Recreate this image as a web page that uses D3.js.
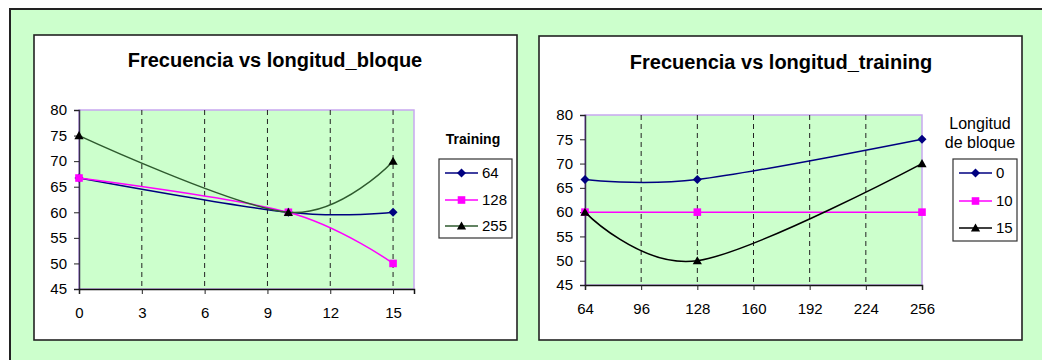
<!DOCTYPE html>
<html>
<head>
<meta charset="utf-8">
<script src="https://cdn.jsdelivr.net/npm/d3@7"></script>
<style>
  html, body { margin: 0; padding: 0; background: #fff; }
  svg { display: block; font-family: Arial, "Liberation Sans", sans-serif; }
</style>
</head>
<body>
<svg id="fig" width="1042" height="360"></svg>
<script>
// Frequency vs block length (one series per training length)
const blockLengths = [0, 10, 15];
const trainingNames = ["64", "128", "255"];
const freqTraining64 = [66.7, 60, 60];
const freqTraining128 = [66.7, 60, 50];
const freqTraining255 = [75, 60, 70];
const blockTicks = [0, 3, 6, 9, 12, 15];

// Frequency vs training length (one series per block length)
const trainingLengths = [64, 128, 256];
const blockNames = ["0", "10", "15"];
const freqBlock0 = [66.7, 66.7, 75];
const freqBlock10 = [60, 60, 60];
const freqBlock15 = [60, 50, 70];
const trainingTicks = [64, 96, 128, 160, 192, 224, 256];

const freqTicks = [45, 50, 55, 60, 65, 70, 75, 80];

const GREEN = "#CCFFCC";
const FONT = "Arial, 'Liberation Sans', sans-serif";
const svg = d3.select("#fig");

// page background and outer frame
svg.append("rect").attr("x", 10).attr("y", 9).attr("width", 1100).attr("height", 400)
  .attr("fill", GREEN).attr("stroke", "#222").attr("stroke-width", 2);

function markerPath(shape) {
  if (shape === "diamond") return "M0,-4.5L4.5,0L0,4.5L-4.5,0Z";
  if (shape === "square") return "M-3.8,-3.8H3.8V3.8H-3.8Z";
  return "M0,-4.5L4.6,3.6L-4.6,3.6Z";
}

function drawChart(cfg) {
  const g = svg.append("g");
  // chart frame
  g.append("rect").attr("x", cfg.box[0]).attr("y", cfg.box[1])
    .attr("width", cfg.box[2]).attr("height", cfg.box[3])
    .attr("fill", "#fff").attr("stroke", "#222").attr("stroke-width", 1.6);

  g.append("text").attr("x", cfg.titleX).attr("y", cfg.titleY)
    .attr("text-anchor", "middle").attr("font-weight", "bold").attr("font-size", 20)
    .attr("fill", "#000").text(cfg.title);

  const x = d3.scaleLinear().domain(cfg.xDomain).range([cfg.plot.left, cfg.plot.right]);
  const y = d3.scaleLinear().domain([45, 80]).range([cfg.plot.bottom, cfg.plot.top]);

  // plot area
  g.append("rect").attr("x", cfg.plot.left).attr("y", cfg.plot.top)
    .attr("width", cfg.plot.right - cfg.plot.left).attr("height", cfg.plot.bottom - cfg.plot.top)
    .attr("fill", GREEN).attr("stroke", "#C8A8F0").attr("stroke-width", 1.5);

  // dashed vertical gridlines
  g.selectAll(".grid").data(cfg.xTicks.filter(t => t !== cfg.xDomain[0] && t !== cfg.xDomain[1]))
    .join("line")
    .attr("x1", d => x(d)).attr("x2", d => x(d))
    .attr("y1", cfg.plot.top).attr("y2", cfg.plot.bottom)
    .attr("stroke", "#222").attr("stroke-width", 1).attr("stroke-dasharray", "5,4");

  // y axis
  const yAxis = g.append("g").attr("transform", `translate(${cfg.plot.left},0)`)
    .call(d3.axisLeft(y).tickValues(freqTicks).tickSize(5).tickPadding(7));
  yAxis.select(".domain").attr("stroke", "#3a3050").attr("stroke-width", 1.5);
  yAxis.selectAll(".tick line").attr("stroke", "#222");
  yAxis.selectAll("text").attr("font-size", 15).attr("fill", "#000").attr("font-family", FONT);

  // x axis
  const xAxis = g.append("g").attr("transform", `translate(0,${cfg.plot.bottom})`)
    .call(d3.axisBottom(x).tickValues(cfg.xTicks).tickSize(5).tickPadding(13));
  xAxis.select(".domain").attr("stroke", "#111").attr("stroke-width", 1.5);
  xAxis.selectAll(".tick line").attr("stroke", "#222");
  xAxis.selectAll("text").attr("font-size", 15).attr("fill", "#000").attr("font-family", FONT);

  const line = d3.line().x(d => x(d[0])).y(d => y(d[1])).curve(d3.curveCatmullRom.alpha(0));

  cfg.series.forEach(s => {
    const pts = cfg.xValues.map((xv, i) => [xv, s.values[i]]);
    g.append("path").attr("d", line(pts)).attr("fill", "none")
      .attr("stroke", s.color).attr("stroke-width", 1.5);
    g.selectAll(null).data(pts).join("path")
      .attr("transform", d => `translate(${x(d[0])},${y(d[1])})`)
      .attr("d", markerPath(s.shape)).attr("fill", s.markerColor);
  });

  // legend
  cfg.legendTitle.forEach((t, i) => {
    g.append("text").attr("x", cfg.legend.titleX).attr("y", cfg.legend.titleY + i * 19)
      .attr("text-anchor", "middle").attr("font-size", cfg.legend.titleSize)
      .attr("font-weight", cfg.legend.titleBold ? "bold" : "normal").attr("fill", "#000").text(t);
  });
  g.append("rect").attr("x", cfg.legend.box[0]).attr("y", cfg.legend.box[1])
    .attr("width", cfg.legend.box[2]).attr("height", cfg.legend.box[3])
    .attr("fill", "#fff").attr("stroke", "#333").attr("stroke-width", 1.2);
  cfg.series.forEach((s, i) => {
    const ly = cfg.legend.rowY[i];
    g.append("line").attr("x1", cfg.legend.lineX[0]).attr("x2", cfg.legend.lineX[1])
      .attr("y1", ly).attr("y2", ly).attr("stroke", s.color).attr("stroke-width", 1.5);
    g.append("path").attr("transform", `translate(${(cfg.legend.lineX[0] + cfg.legend.lineX[1]) / 2},${ly})`)
      .attr("d", markerPath(s.shape)).attr("fill", s.markerColor);
    g.append("text").attr("x", cfg.legend.textX).attr("y", ly).attr("dy", "0.36em")
      .attr("font-size", 15).attr("fill", "#000").text(s.name);
  });
}

drawChart({
  box: [34, 35, 483, 305],
  title: "Frecuencia vs longitud_bloque",
  titleX: 275, titleY: 67,
  plot: { left: 79, right: 414, top: 110, bottom: 289 },
  xDomain: [0, 16], xTicks: blockTicks, xValues: blockLengths,
  series: [
    { name: trainingNames[0], values: freqTraining64, color: "#000080", markerColor: "#000080", shape: "diamond" },
    { name: trainingNames[1], values: freqTraining128, color: "#FF00FF", markerColor: "#FF00FF", shape: "square" },
    { name: trainingNames[2], values: freqTraining255, color: "#2E5A2E", markerColor: "#000", shape: "triangle" }
  ],
  legendTitle: ["Training"],
  legend: {
    titleX: 473, titleY: 144, titleSize: 14, titleBold: true,
    box: [439, 159, 73, 79], rowY: [173, 200, 226], lineX: [445, 478], textX: 482
  }
});

drawChart({
  box: [539, 36, 483, 304],
  title: "Frecuencia vs longitud_training",
  titleX: 781, titleY: 69,
  plot: { left: 585, right: 922, top: 115, bottom: 285 },
  xDomain: [64, 256], xTicks: trainingTicks, xValues: trainingLengths,
  series: [
    { name: blockNames[0], values: freqBlock0, color: "#000080", markerColor: "#000080", shape: "diamond" },
    { name: blockNames[1], values: freqBlock10, color: "#FF00FF", markerColor: "#FF00FF", shape: "square" },
    { name: blockNames[2], values: freqBlock15, color: "#000", markerColor: "#000", shape: "triangle" }
  ],
  legendTitle: ["Longitud", "de bloque"],
  legend: {
    titleX: 980, titleY: 129, titleSize: 16, titleBold: false,
    box: [953, 159, 64, 82], rowY: [173, 201, 228], lineX: [959, 992], textX: 996
  }
});
</script>
</body>
</html>
